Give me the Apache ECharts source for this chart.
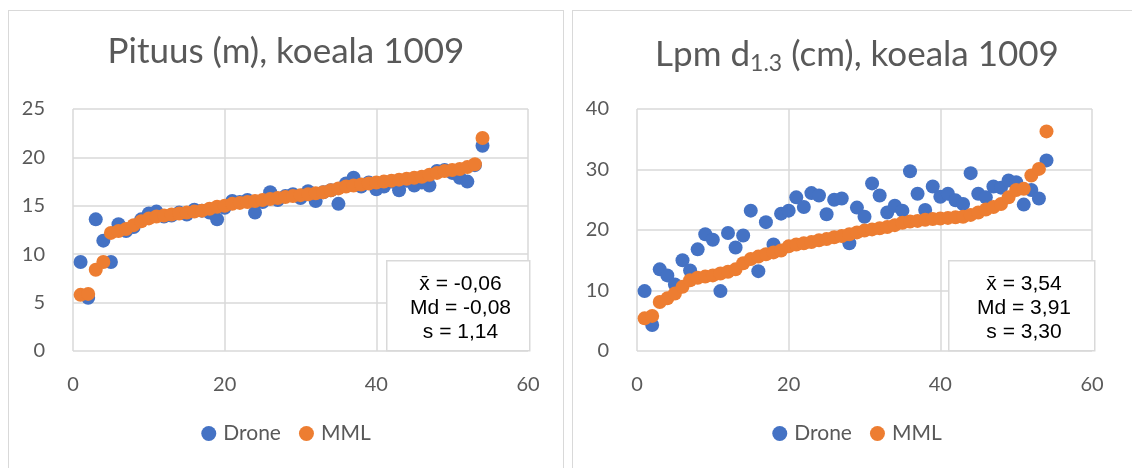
<!DOCTYPE html>
<html>
<head>
<meta charset="utf-8">
<script src="https://cdn.jsdelivr.net/npm/echarts@6/dist/echarts.min.js"></script>
<style>
  html, body { margin: 0; padding: 0; background: #fff; width: 1132px; height: 468px; overflow: hidden; }
  .panel { position: absolute; top: 10px; height: 470px; border: 1px solid #d9d9d9; box-sizing: border-box; background: #fff; }
  #left { left: 8px; width: 556px; }
  #right { left: 572px; width: 570px; }
</style>
</head>
<body>
<div id="left" class="panel"></div>
<div id="right" class="panel"></div>
<script>
// puun numero 1..54
var treeNo = [];
for (var i = 1; i <= 54; i++) treeNo.push(i);

// Pituus (m)
var heightDrone = [9.2, 5.5, 13.6, 11.4, 9.2, 13.1, 12.4, 12.8, 13.6, 14.2, 14.4, 13.9, 14.0, 14.3, 14.1, 14.6, 14.5, 14.3, 13.6, 14.8,
  15.5, 15.4, 15.6, 14.3, 15.4, 16.4, 15.6, 16.0, 16.2, 15.8, 16.5, 15.5, 16.4, 16.6, 15.2, 17.3, 17.9, 17.0, 17.4, 16.7,
  17.0, 17.5, 16.6, 17.6, 17.1, 17.4, 17.1, 18.6, 18.7, 18.4, 17.9, 17.5, 19.2, 21.2];
var heightMML = [5.8, 5.9, 8.4, 9.2, 12.2, 12.4, 12.6, 13.0, 13.4, 13.7, 13.9, 14.0, 14.1, 14.2, 14.3, 14.4, 14.5, 14.7, 14.9, 15.0,
  15.2, 15.3, 15.4, 15.5, 15.6, 15.7, 15.8, 15.9, 16.0, 16.1, 16.2, 16.3, 16.4, 16.6, 16.8, 17.0, 17.1, 17.2, 17.3, 17.4,
  17.5, 17.6, 17.7, 17.8, 17.9, 18.0, 18.2, 18.4, 18.6, 18.7, 18.8, 19.0, 19.3, 22.0];

// Lpm d1.3 (cm)
var diamDrone = [9.9, 4.3, 13.5, 12.5, 11.0, 15.0, 13.3, 16.8, 19.3, 18.4, 9.9, 19.5, 17.1, 19.1, 23.2, 13.2, 21.3, 17.6, 22.7, 23.2,
  25.4, 23.8, 26.1, 25.7, 22.6, 25.0, 25.2, 17.8, 23.7, 22.2, 27.7, 25.7, 22.9, 24.0, 23.2, 29.7, 26.0, 23.3, 27.2, 25.5,
  26.0, 24.9, 24.3, 29.4, 26.0, 25.4, 27.2, 27.0, 28.2, 27.9, 24.2, 26.6, 25.2, 31.5];
var diamMML = [5.4, 5.8, 8.1, 8.7, 9.5, 10.6, 11.7, 12.1, 12.3, 12.5, 12.8, 13.1, 13.5, 14.5, 15.2, 15.6, 16.0, 16.3, 16.6, 17.3,
  17.6, 17.8, 18.0, 18.3, 18.5, 18.8, 19.0, 19.3, 19.6, 19.9, 20.1, 20.3, 20.5, 20.8, 21.2, 21.4, 21.5, 21.7, 21.8, 21.9,
  22.0, 22.1, 22.2, 22.5, 22.9, 23.4, 23.8, 24.3, 25.4, 26.6, 26.8, 29.0, 30.1, 36.3];

var statsHeight = ['x\u0304 = -0,06', 'Md = -0,08', 's = 1,14'];
var statsDiam = ['x\u0304 = 3,54', 'Md = 3,91', 's = 3,30'];

var txt = '#595959';
var gridCol = '#d9d9d9';
var font = 'Lato';

function pairs(ys) {
  return treeNo.map(function (x, k) { return [x, ys[k]]; });
}

function makeOption(title, yMax, yInt, drone, mml, stats, boxLeft, boxW) {
  return {
    animation: false,
    title: {
      text: title,
      left: 'center',
      top: 18,
      textStyle: {
        color: txt, fontFamily: font, fontSize: 35, fontWeight: 'normal',
        rich: {
          a: { color: txt, fontFamily: font, fontSize: 35 },
          sub: { color: txt, fontFamily: font, fontSize: 23, padding: [18, 0, 0, 0] }
        }
      }
    },
    grid: { left: 64, top: 98, width: 455, height: 242 },
    legend: {
      bottom: 30,
      left: 'center',
      icon: 'circle',
      itemWidth: 15,
      itemHeight: 15,
      itemGap: 18,
      textStyle: { color: txt, fontFamily: font, fontSize: 21, padding: [0, 0, 0, 2] },
      data: ['Drone', 'MML']
    },
    xAxis: {
      type: 'value', min: 0, max: 60, interval: 20,
      axisLine: { show: false },
      axisTick: { show: false },
      splitLine: { show: true, lineStyle: { color: gridCol, width: 1.5 } },
      axisLabel: { color: txt, fontFamily: font, fontSize: 20, margin: 24 }
    },
    yAxis: {
      type: 'value', min: 0, max: yMax, interval: yInt,
      axisLine: { show: false },
      axisTick: { show: false },
      splitLine: { show: true, lineStyle: { color: gridCol, width: 1.5 } },
      axisLabel: { color: txt, fontFamily: font, fontSize: 20, margin: 28 }
    },
    series: [
      { name: 'Drone', type: 'scatter', symbolSize: 14, data: pairs(drone),
        itemStyle: { color: '#4472C4', opacity: 1 } },
      { name: 'MML', type: 'scatter', symbolSize: 14, data: pairs(mml),
        itemStyle: { color: '#ED7D31', opacity: 1 } }
    ],
    graphic: [
      { type: 'rect', left: boxLeft, top: 249, z: 100,
        shape: { width: boxW, height: 90 },
        style: { fill: '#fff', stroke: gridCol, lineWidth: 1.5 } },
      { type: 'text', x: boxLeft + boxW / 2 + 3, y: 261, z: 101,
        style: { text: stats.join('\n'), fill: '#000', font: '21px "Liberation Sans"',
          lineHeight: 24, align: 'center', verticalAlign: 'top' } }
    ]
  };
}

var leftChart = echarts.init(document.getElementById('left'));
leftChart.setOption(makeOption('Pituus (m), koeala 1009', 25, 5, heightDrone, heightMML, statsHeight, 377, 143));

var rightChart = echarts.init(document.getElementById('right'));
rightChart.setOption(makeOption('{a|Lpm d}{sub|1.3}{a| (cm), koeala 1009}', 40, 10, diamDrone, diamMML, statsDiam, 375, 146));
</script>
</body>
</html>
